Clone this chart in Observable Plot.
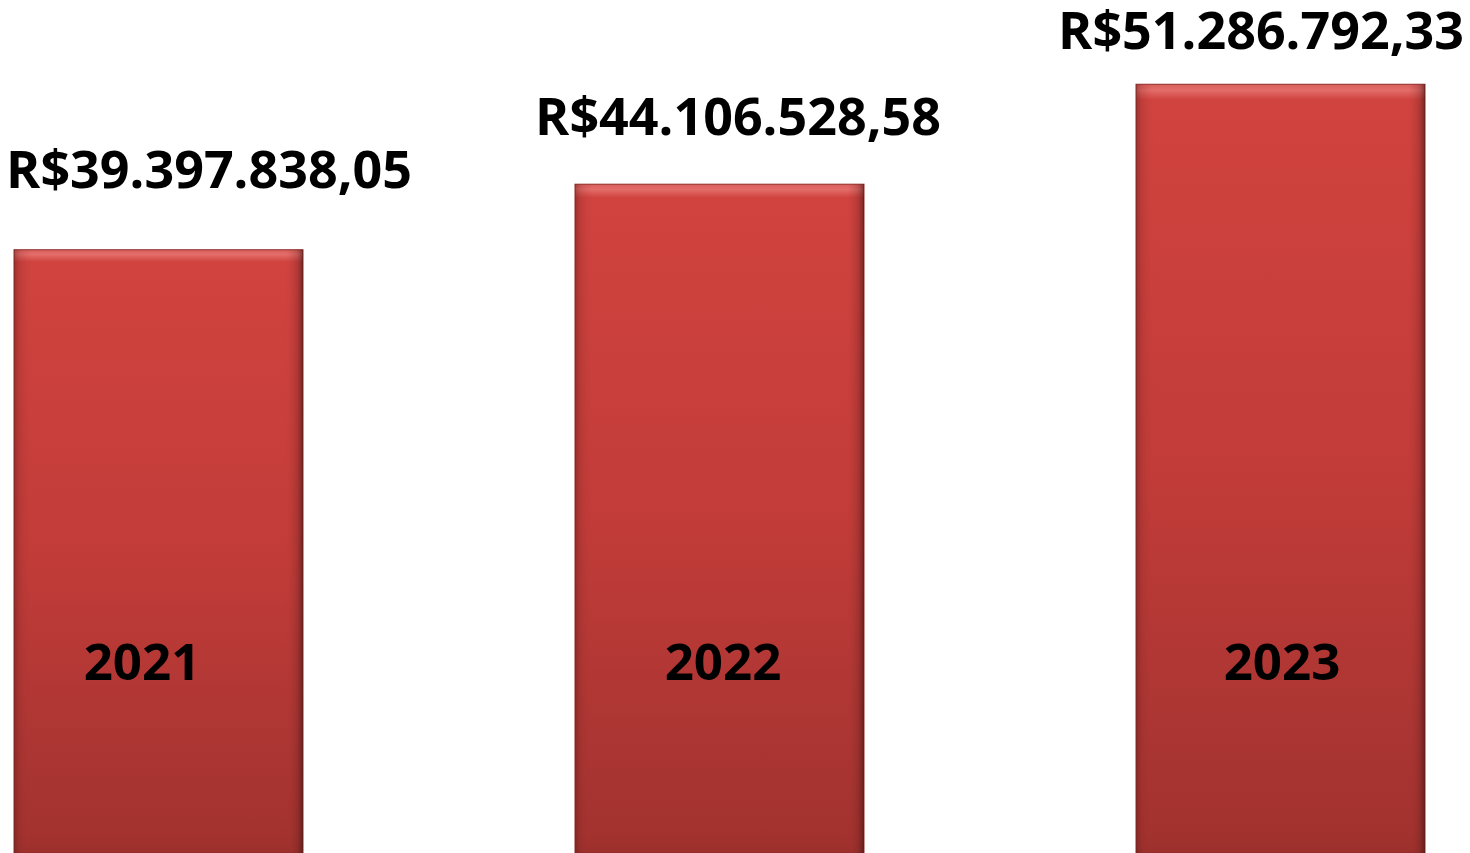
<!DOCTYPE html>
<html>
<head>
<meta charset="utf-8">
<script src="https://cdn.jsdelivr.net/npm/d3@7"></script>
<script src="https://cdn.jsdelivr.net/npm/@observablehq/plot@0.6"></script>
<style>
  html, body { margin: 0; padding: 0; background: #fff; overflow: hidden; }
  #chart svg { display: block; }
</style>
</head>
<body>
<div id="chart"></div>
<script>
// ---- data ----
const years = ["2021", "2022", "2023"];
const values = [39397838.05, 44106528.58, 51286792.33];

const rows = years.map((year, i) => ({year, value: values[i]}));
const brl = d3.formatLocale({decimal: ",", thousands: ".", grouping: [3], currency: ["R$", ""]}).format("$,.2f");

const yMin = -3.94e6, yMax = 57.34e6;
// per-label offsets (placement only)
const labelOffsets = [{dx: 50, dy: -62}, {dx: 18, dy: -50}, {dx: -20, dy: -36}];
const yearOffsets = [-17, 3, 1];

const font = "'Open Sans', 'Noto Sans', sans-serif";

const chart = Plot.plot({
  width: 1470,
  height: 853,
  marginLeft: 14,
  marginRight: 45,
  marginTop: 0,
  marginBottom: 0,
  style: {fontFamily: font, background: "#fff", overflow: "hidden"},
  x: {type: "band", domain: years, paddingInner: 0.485, paddingOuter: 0, axis: null},
  y: {domain: [yMin, yMax], axis: null},
  marks: [
    Plot.barY(rows, {x: "year", y1: yMin, y2: "value", fill: "url(#barGrad)", stroke: "#8f2c29", strokeWidth: 1}),
    Plot.barY(rows, {x: "year", y1: yMin, y2: "value", fill: "url(#sideGrad)"}),
    ...rows.map((r, i) => Plot.text([r], {
      x: "year", y: "value", text: d => brl(d.value),
      dx: labelOffsets[i].dx, dy: labelOffsets[i].dy, lineAnchor: "bottom",
      fontSize: 52, fontWeight: "bold", fill: "#000"
    })),
    ...rows.map((r, i) => Plot.text([r], {
      x: "year", frameAnchor: "bottom", text: "year",
      dx: yearOffsets[i], dy: -174, lineAnchor: "bottom",
      fontSize: 51, fontWeight: "bold", fill: "#000"
    }))
  ]
});

// gradients for the bevelled red bars
const ns = "http://www.w3.org/2000/svg";
const defs = document.createElementNS(ns, "defs");
defs.innerHTML = `
  <linearGradient id="barGrad" x1="0" y1="0" x2="0" y2="1">
    <stop offset="0" stop-color="#d9605c"/>
    <stop offset="0.008" stop-color="#e36d69"/>
    <stop offset="0.02" stop-color="#d0433f"/>
    <stop offset="0.15" stop-color="#cd413d"/>
    <stop offset="0.5" stop-color="#c23c39"/>
    <stop offset="0.85" stop-color="#aa3532"/>
    <stop offset="0.97" stop-color="#a3322e"/>
    <stop offset="1" stop-color="#9c302c"/>
  </linearGradient>
  <linearGradient id="sideGrad" x1="0" y1="0" x2="1" y2="0">
    <stop offset="0" stop-color="#5a1a18" stop-opacity="0.45"/>
    <stop offset="0.02" stop-color="#8a2a27" stop-opacity="0.25"/>
    <stop offset="0.06" stop-color="#b43a36" stop-opacity="0.0"/>
    <stop offset="0.94" stop-color="#b43a36" stop-opacity="0.0"/>
    <stop offset="0.98" stop-color="#6a2220" stop-opacity="0.3"/>
    <stop offset="1" stop-color="#3a1210" stop-opacity="0.6"/>
  </linearGradient>`;
chart.insertBefore(defs, chart.firstChild);

document.getElementById("chart").appendChild(chart);
</script>
</body>
</html>
